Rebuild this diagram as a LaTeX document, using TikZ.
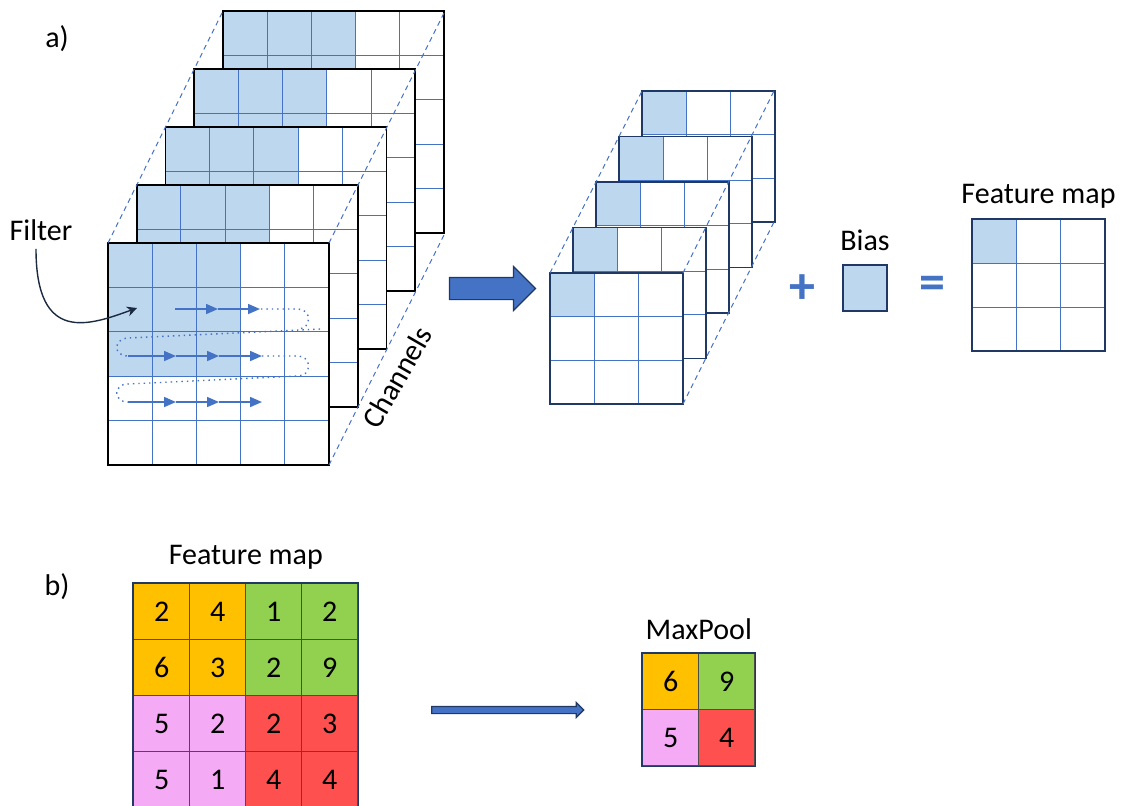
\documentclass[tikz,border=0pt]{standalone}
\usepackage{fontspec}
\setmainfont{Carlito}
\usetikzlibrary{positioning,arrows.meta,matrix,shapes.arrows}

\definecolor{cnnblue}{HTML}{4472C4}
\definecolor{cnnshade}{HTML}{BDD7EE}
\definecolor{cnnnavy}{HTML}{203864}
\definecolor{filterink}{HTML}{1B2A41}
\definecolor{poolorange}{HTML}{FFC000}
\definecolor{poolgreen}{HTML}{92D050}
\definecolor{poolpink}{HTML}{F5AAF5}
\definecolor{poolred}{HTML}{FF5050}

\tikzset{
  >={Stealth[length=2.2mm]},
  lbl/.style={font=\fontsize{15}{18}\selectfont,inner sep=0pt},
  opsym/.style={font=\fontsize{26}{30}\selectfont\bfseries,text=cnnblue,inner sep=0pt},
  gridline/.style={cnnblue,line width=0.5pt},
  inframe/.style={draw=black,line width=0.9pt},
  outframe/.style={draw=cnnnavy,line width=0.8pt},
  depthline/.style={cnnblue,line width=0.5pt,dash pattern=on 2.5pt off 2pt},
  scanline/.style={cnnblue,line width=0.8pt,-{Triangle[length=6pt,width=5pt]}},
  scandot/.style={cnnblue,line width=0.7pt,dotted},
  filterarrow/.style={filterink,line width=0.7pt,-{Stealth[length=5pt,width=5pt]}},
  fatarrow/.style={single arrow,draw=cnnnavy,fill=cnnblue,line width=0.6pt,
    inner xsep=0pt,single arrow head indent=0pt},
  poolgrid/.style={matrix of nodes,inner sep=0pt,
    nodes={draw=black!70,line width=0.4pt,minimum size=28pt,anchor=center,
      inner sep=0pt,font=\fontsize{15}{18}\selectfont},
    column sep=-\pgflinewidth,row sep=-\pgflinewidth},
}

\begin{document}
\begin{tikzpicture}[x=0.5pt,y=-0.5pt]
  \useasboundingbox (0,0) rectangle (1127,805);

  % a) input volume, back layer first
  \node[lbl] (parta) at (57,39) {a)};
  \foreach \k in {4,3,2,1,0}{
    \begin{scope}[shift={(108+28.75*\k,243-58*\k)}]
      \fill[white] (0,0) rectangle (221,222);
      \fill[cnnshade] (0,0) rectangle (132.6,133.2);
      \foreach \i in {1,...,4}{
        \draw[gridline] (44.2*\i,0) -- (44.2*\i,222);
        \draw[gridline] (0,44.4*\i) -- (221,44.4*\i);
      }
      \draw[inframe] (0,0) rectangle (221,222);
    \end{scope}
  }
  \draw[depthline] (108,243) -- (223,11);
  \draw[depthline] (329,243) -- (445,11);
  \draw[depthline] (329,465) -- (445,233);
  \node[lbl,rotate=60] (channels) at (397,377) {Channels};

  % sliding path of the filter
  \draw[scanline] (175,309) -- (218,309);
  \draw[scanline] (218,309) -- (260,309);
  \foreach \y in {356,402}{
    \draw[scanline] (128,\y) -- (176,\y);
    \draw[scanline] (176,\y) -- (219,\y);
    \draw[scanline] (219,\y) -- (262,\y);
  }
  \draw[scandot] (261,309) -- (298,309) .. controls (312,309) and (312,329) .. (298,329);
  \draw[scandot] (320,329) -- (128,338) .. controls (113,339) and (113,356) .. (128,356);
  \draw[scandot] (262,356) -- (298,356) .. controls (312,356) and (312,376) .. (298,376)
    -- (128,384) .. controls (113,384) and (113,402) .. (128,402);

  \node[lbl] (filter) at (41,230) {Filter};
  \coordinate (filtertip) at (137,308);
  \draw[filterarrow] (filter.south) ++(-5,8) .. controls (36,345) and (90,325) .. (filtertip);

  \node[fatarrow,minimum height=43pt,inner ysep=5.25pt,
    single arrow head extend=5.5pt] (convarrow) at (487,288.5) {};

  % per-channel results
  \foreach \k in {4,3,2,1,0}{
    \begin{scope}[shift={(550+23*\k,273-45.5*\k)}]
      \fill[white] (0,0) rectangle (133,131);
      \fill[cnnshade] (0,0) rectangle (44.3,43.7);
      \foreach \i in {1,2}{
        \draw[gridline] (44.3*\i,0) -- (44.3*\i,131);
        \draw[gridline] (0,43.7*\i) -- (133,43.7*\i);
      }
      \draw[outframe] (0,0) rectangle (133,131);
    \end{scope}
  }
  \draw[depthline] (550,273) -- (642,91);
  \draw[depthline] (683,273) -- (774,91);
  \draw[depthline] (683,404) -- (774,222);

  \node[opsym] (plus) at (802,289) {+};
  \node[draw=cnnnavy,line width=0.8pt,fill=cnnshade,minimum width=22pt,
    minimum height=23pt,inner sep=0pt] (bias) at (865,288) {};
  \node[lbl,above=6.5pt of bias] (biaslbl) {Bias};
  \node[opsym] (equals) at (932,288) {=};

  % output feature map
  \begin{scope}[shift={(972,219)}]
    \fill[cnnshade] (0,0) rectangle (44.3,44);
    \foreach \i in {1,2}{
      \draw[gridline] (44.3*\i,0) -- (44.3*\i,132);
      \draw[gridline] (0,44*\i) -- (133,44*\i);
    }
    \draw[outframe] (0,0) rectangle (133,132);
    \coordinate (outmap) at (66.5,0);
  \end{scope}
  \node[lbl,above=5pt of outmap] (outlbl) {Feature map};

  % b) max pooling
  \node[lbl] (partb) at (57,587) {b)};
  \matrix (fmap) [poolgrid,anchor=north west] at (133,583) {
    |[fill=poolorange]| 2 & |[fill=poolorange]| 4 & |[fill=poolgreen]| 1 & |[fill=poolgreen]| 2 \\
    |[fill=poolorange]| 6 & |[fill=poolorange]| 3 & |[fill=poolgreen]| 2 & |[fill=poolgreen]| 9 \\
    |[fill=poolpink]| 5 & |[fill=poolpink]| 2 & |[fill=poolred]| 2 & |[fill=poolred]| 3 \\
    |[fill=poolpink]| 5 & |[fill=poolpink]| 1 & |[fill=poolred]| 4 & |[fill=poolred]| 4 \\
  };
  \draw[outframe] (fmap.north west) rectangle (fmap.south east);
  \node[lbl,above=6.5pt of fmap] (fmaplbl) {Feature map};

  \node[fatarrow,minimum height=76pt,inner ysep=1.5pt,
    single arrow head extend=2pt] (poolarrow) at (506,710) {};

  \matrix (pooled) [poolgrid,anchor=north west] at (642,653) {
    |[fill=poolorange]| 6 & |[fill=poolgreen]| 9 \\
    |[fill=poolpink]| 5 & |[fill=poolred]| 4 \\
  };
  \draw[outframe] (pooled.north west) rectangle (pooled.south east);
  \node[lbl,above=6.5pt of pooled] (pooledlbl) {MaxPool};
\end{tikzpicture}
\end{document}
